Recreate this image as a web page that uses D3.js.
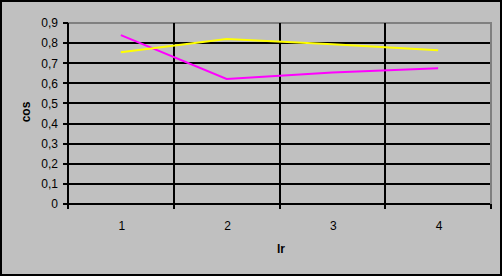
<!DOCTYPE html>
<html>
<head>
<meta charset="utf-8">
<script src="https://cdn.jsdelivr.net/npm/d3@7"></script>
<style>
  body { margin: 0; background: #fff; }
  text { font-family: "Liberation Sans", Arial, sans-serif; fill: #000; }
  line, rect.frame, path.border { shape-rendering: crispEdges; }
</style>
</head>
<body>
<div id="chart"></div>
<script>
var categories = ["1", "2", "3", "4"]
var magenta = [0.84, 0.622, 0.654, 0.675]
var yellow = [0.755, 0.821, 0.794, 0.764]
var yTicks = [0, 0.1, 0.2, 0.3, 0.4, 0.5, 0.6, 0.7, 0.8, 0.9]

var W = 503, H = 277
var svg = d3.select('#chart').append('svg')
  .attr('width', W).attr('height', H)

// chart background + frame
svg.append('rect').attr('class', 'frame')
  .attr('x', 1).attr('y', 1).attr('width', W - 3).attr('height', H - 3)
  .attr('fill', '#c0c0c0').attr('stroke', '#000').attr('stroke-width', 2)

var x = d3.scaleBand().domain(categories).range([68, 491])
var y = d3.scaleLinear().domain([0, 0.9]).range([204, 23])

// plot area border (gray top / right)
svg.append('path').attr('class', 'border')
  .attr('d', 'M' + x.range()[0] + ',' + y(0.9) + 'H' + x.range()[1] + 'V' + y(0))
  .attr('fill', 'none').attr('stroke', '#808080').attr('stroke-width', 2)

// horizontal gridlines
svg.selectAll('line.hgrid').data(yTicks.filter(function(d){ return d < 0.9 }))
  .join('line').attr('class', 'hgrid')
  .attr('x1', x.range()[0] - 5).attr('x2', x.range()[1] - 1)
  .attr('y1', function(d){ return y(d) }).attr('y2', function(d){ return y(d) })
  .attr('stroke', '#000').attr('stroke-width', 2)

// tick on 0,9
svg.append('line')
  .attr('x1', x.range()[0] - 5).attr('x2', x.range()[0])
  .attr('y1', y(0.9)).attr('y2', y(0.9))
  .attr('stroke', '#000').attr('stroke-width', 2)

// vertical lines at category boundaries
var bounds = categories.map(function(c){ return x(c) })
svg.selectAll('line.vgrid').data(bounds)
  .join('line').attr('class', 'vgrid')
  .attr('x1', function(d){ return d }).attr('x2', function(d){ return d })
  .attr('y1', y(0.9)).attr('y2', y(0) + 5)
  .attr('stroke', '#000').attr('stroke-width', 2)
svg.append('line')
  .attr('x1', x.range()[1]).attr('x2', x.range()[1])
  .attr('y1', y(0)).attr('y2', y(0) + 5)
  .attr('stroke', '#000').attr('stroke-width', 2)

// y tick labels
svg.selectAll('text.ytick').data(yTicks)
  .join('text').attr('class', 'ytick')
  .attr('x', 58).attr('y', function(d){ return y(d) })
  .attr('dy', '0.36em').attr('text-anchor', 'end')
  .style('font-size', '12px')
  .text(function(d){ return d === 0 ? '0' : d3.format('.1f')(d).replace('.', ',') })

// x tick labels
svg.selectAll('text.xtick').data(categories)
  .join('text').attr('class', 'xtick')
  .attr('x', function(d){ return x(d) + x.bandwidth() / 2 + 1 })
  .attr('y', 226).attr('dy', '0.36em').attr('text-anchor', 'middle')
  .style('font-size', '12px')
  .text(function(d){ return d })

// axis titles
svg.append('text')
  .attr('transform', 'translate(30,112) rotate(-90)')
  .attr('text-anchor', 'middle')
  .style('font-size', '12px').style('font-weight', 'bold')
  .text('cos')

svg.append('text')
  .attr('x', 281).attr('y', 253).attr('text-anchor', 'middle')
  .style('font-size', '12px').style('font-weight', 'bold')
  .text('lr')

// series lines
var line = d3.line()
  .x(function(d, i){ return x(categories[i]) + x.bandwidth() / 2 })
  .y(function(d){ return y(d) })

svg.append('path').attr('d', line(magenta))
  .attr('fill', 'none').attr('stroke', '#ff00ff').attr('stroke-width', 2)
svg.append('path').attr('d', line(yellow))
  .attr('fill', 'none').attr('stroke', '#ffff00').attr('stroke-width', 2)
</script>
</body>
</html>
